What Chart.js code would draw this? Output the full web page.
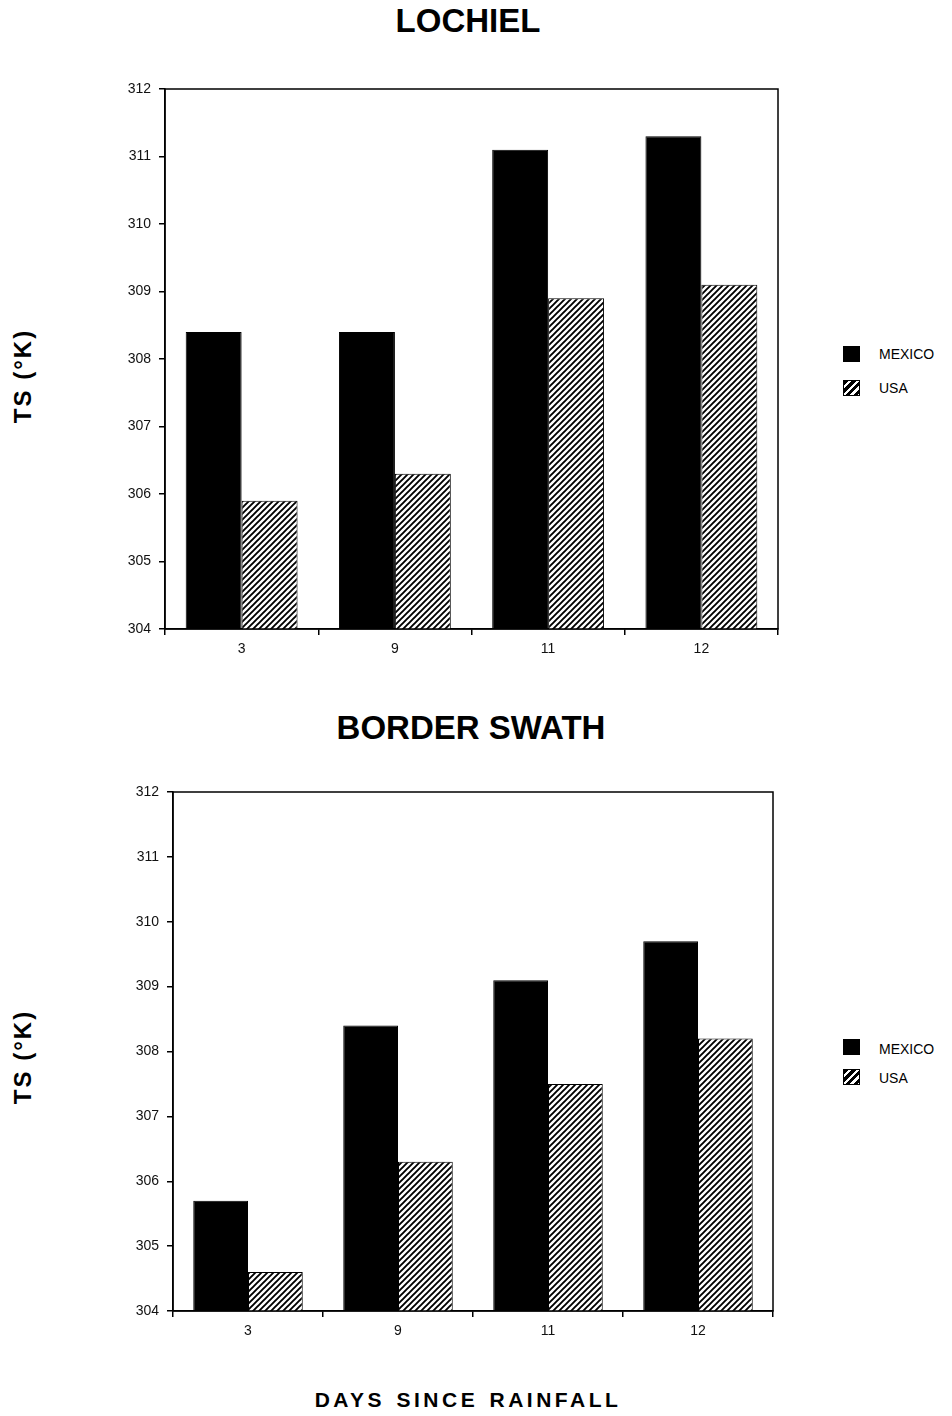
<!DOCTYPE html>
<html>
<head>
<meta charset="utf-8">
<script src="https://cdn.jsdelivr.net/npm/chart.js@4/dist/chart.umd.min.js"></script>
<style>
  html, body { margin:0; padding:0; background:#fff; }
  body { width:952px; height:1416px; position:relative; overflow:hidden; font-family:"Liberation Sans", Arial, sans-serif; color:#000; }
  .abs { position:absolute; }
  .title { font-weight:bold; font-size:33px; transform:translate(-50%,-50%); white-space:nowrap; }
  .ytitle { font-weight:bold; font-size:24px; letter-spacing:2px; white-space:nowrap; transform:translate(-50%,-50%) rotate(-90deg); }
  .xtitle { font-weight:bold; font-size:21px; letter-spacing:3.5px; word-spacing:2px; transform:translate(-50%,-50%); white-space:nowrap; }
  .leg { font-size:14px; white-space:nowrap; transform:translateY(-50%); }
  .sw { width:17px; height:16px; box-sizing:border-box; border:1px solid #000; transform:translateY(-50%); }
  .sw.mex { background:#000; }
  .sw.usa { background:repeating-linear-gradient(135deg, #000 0 3px, #fff 3px 5.5px); }
  canvas { position:absolute; left:0; }
</style>
</head>
<body>
<div class="abs title" style="left:468px; top:21px;">LOCHIEL</div>
<div class="abs title" style="left:471px; top:728px;">BORDER SWATH</div>
<div class="abs ytitle" style="left:23px; top:376px;">TS (°K)</div>
<div class="abs ytitle" style="left:23px; top:1057px;">TS (°K)</div>
<div class="abs xtitle" style="left:468px; top:1400px;">DAYS SINCE RAINFALL</div>

<div class="abs sw mex" style="left:843px; top:354px;"></div>
<div class="abs leg" style="left:879px; top:354px;">MEXICO</div>
<div class="abs sw usa" style="left:843px; top:388px;"></div>
<div class="abs leg" style="left:879px; top:388px;">USA</div>

<div class="abs sw mex" style="left:843px; top:1047px;"></div>
<div class="abs leg" style="left:879px; top:1049px;">MEXICO</div>
<div class="abs sw usa" style="left:843px; top:1077px;"></div>
<div class="abs leg" style="left:879px; top:1078px;">USA</div>

<canvas id="c1" style="top:0px;"></canvas>
<canvas id="c2" style="top:700px;"></canvas>

<script>
// ---- data ----
const categories = ['3', '9', '11', '12'];
const lochielMexico = [308.4, 308.4, 311.1, 311.3];
const lochielUSA    = [305.9, 306.3, 308.9, 309.1];
const borderMexico  = [305.7, 308.4, 309.1, 309.7];
const borderUSA     = [304.6, 306.3, 307.5, 308.2];
const seriesNames   = ['MEXICO', 'USA'];
const yMin = 304, yMax = 312, yStep = 1;

// hatch pattern
function makeHatch() {
  const s = 6;
  const p = document.createElement('canvas');
  p.width = s; p.height = s;
  const g = p.getContext('2d');
  g.fillStyle = '#fff'; g.fillRect(0, 0, s, s);
  g.strokeStyle = '#000'; g.lineWidth = 1.9;
  g.beginPath();
  g.moveTo(-1, s + 1); g.lineTo(s + 1, -1);
  g.moveTo(-2, 2); g.lineTo(2, -2);
  g.moveTo(s - 2, s + 2); g.lineTo(s + 2, s - 2);
  g.stroke();
  return g.createPattern(p, 'repeat');
}

const framePlugin = {
  id: 'frame',
  afterDraw(chart) {
    const a = chart.chartArea, ctx = chart.ctx;
    ctx.save();
    ctx.strokeStyle = '#000';
    ctx.lineWidth = 1.5;
    ctx.strokeRect(a.left, a.top, a.right - a.left, a.bottom - a.top);
    ctx.restore();
  }
};

function build(id, canvasH, area, mex, usa) {
  const cv = document.getElementById(id);
  cv.width = 952; cv.height = canvasH;
  cv.style.width = '952px'; cv.style.height = canvasH + 'px';
  const ctx = cv.getContext('2d');
  const xH = 40;
  return new Chart(ctx, {
    type: 'bar',
    data: {
      labels: categories,
      datasets: [
        { label: seriesNames[0], data: mex, backgroundColor: '#000', borderColor: '#000', borderWidth: 1,
          categoryPercentage: 0.73, barPercentage: 1.0 },
        { label: seriesNames[1], data: usa, backgroundColor: makeHatch(), borderColor: '#000', borderWidth: 1,
          categoryPercentage: 0.73, barPercentage: 1.0 }
      ]
    },
    options: {
      responsive: false,
      animation: false,
      devicePixelRatio: 1,
      layout: { padding: { left: 0, right: 952 - area.right, top: area.top, bottom: canvasH - area.bottom - xH } },
      plugins: { legend: { display: false }, tooltip: { enabled: false }, title: { display: false } },
      scales: {
        x: {
          offset: true,
          grid: { offset: true, drawOnChartArea: false, drawTicks: true, tickLength: 6, color: '#000', lineWidth: 1.5 },
          border: { display: true, color: '#000', width: 1.5 },
          ticks: { color: '#111', font: { family: 'Liberation Sans', size: 14 }, padding: 6 },
          afterFit(s) { s.height = xH; }
        },
        y: {
          min: yMin, max: yMax,
          ticks: { stepSize: yStep, color: '#111', font: { family: 'Liberation Sans', size: 14 }, padding: 8 },
          grid: { drawOnChartArea: false, drawTicks: true, tickLength: 6, color: '#000', lineWidth: 1.5 },
          border: { display: true, color: '#000', width: 1.5 },
          afterFit(s) { s.width = area.left; }
        }
      }
    },
    plugins: [framePlugin]
  });
}

build('c1', 700, { left: 165, right: 778, top: 89, bottom: 629 }, lochielMexico, lochielUSA);
build('c2', 716, { left: 173, right: 773, top: 92, bottom: 611 }, borderMexico, borderUSA);
</script>
</body>
</html>
